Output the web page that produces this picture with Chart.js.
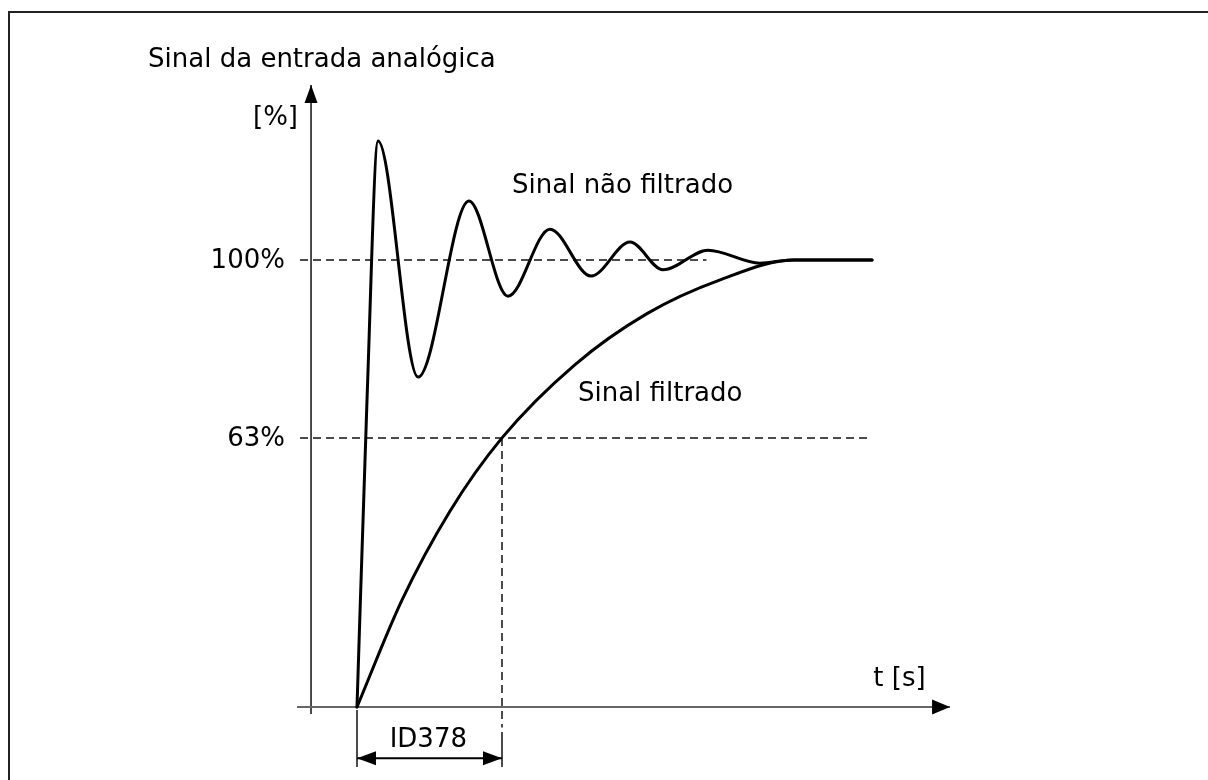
<!DOCTYPE html>
<html lang="pt">
<head>
<meta charset="utf-8">
<title>Sinal da entrada analógica</title>
<script src="https://cdn.jsdelivr.net/npm/chart.js@4.4.1/dist/chart.umd.min.js"></script>
<style>
  html, body { margin: 0; padding: 0; background: #fff; }
  #wrap { position: relative; width: 1208px; height: 780px; overflow: hidden; }
  #frame { position: absolute; left: 8px; top: 11px; width: 1400px; height: 1000px;
           border-left: 2px solid #222; border-top: 2px solid #222; }
  canvas { position: absolute; left: 0; top: 0; }
</style>
</head>
<body>
<div id="wrap">
  <div id="frame"></div>
  <canvas id="chart" width="1208" height="780"></canvas>
</div>
<script>
// Data: time in multiples of the filter time (ID378), signal in %
// unfiltered signal: start, steep rise, then the peaks and troughs of the ringing
const rawTime   = [0, 0.069, 0.145, 0.421, 0.772, 1.041, 1.331, 1.614, 1.883, 2.11, 2.421, 2.779, 3.0, 3.552];
const rawSignal = [0, 68.7, 126.6, 73.8, 113.2, 91.9, 106.9, 96.4, 104.0, 97.8, 102.2, 99.3, 100, 100];

// filtered signal (first-order response)
const filtTime   = [0, 0.31, 0.641, 1.0, 1.5, 2.0, 2.5, 3.02, 3.3, 3.552];
const filtSignal = [0, 23.9, 43.8, 60.2, 76.5, 88.0, 95.5, 100, 100, 100];

// dashed reference levels (height) and their labels
const refLevels = [100, 60.2];
const refLabels = ['100%', '63%'];
const refStart  = [-0.393, -0.393];
const refEnd    = [2.41, 3.552];

// axes and dimension line
const tauTime = 1;
const xAxisSpan = [-0.414, 4.09];
const yAxisTime = -0.317;
const yAxisSpan = [-1.57, 139.15];
const dimLevel = -11.48;
const dimExtent = [-0.67, -13.4];
const tauDashBottom = -4.6;
const tauExtTop = -5.6;

const pts = (xs, ys) => xs.map((x, i) => ({ x: x, y: ys[i] }));

const ink = '#000';
const font = '26px "DejaVu Sans", Verdana, sans-serif';

function lineSet(data, color, width, dash) {
  return {
    data: data,
    showLine: true,
    borderColor: color,
    borderWidth: width,
    borderDash: dash || [],
    pointRadius: 0,
    fill: false,
    tension: 0
  };
}

function curveSet(data) {
  const ds = lineSet(data, '#000', 3);
  ds.cubicInterpolationMode = 'monotone';
  ds.borderJoinStyle = 'round';
  ds.borderCapStyle = 'round';
  return ds;
}

const datasets = [
  curveSet(pts(rawTime, rawSignal)),
  curveSet(pts(filtTime, filtSignal)),
  lineSet([{ x: xAxisSpan[0], y: 0 }, { x: xAxisSpan[1], y: 0 }], '#666', 2),
  lineSet([{ x: yAxisTime, y: yAxisSpan[0] }, { x: yAxisTime, y: yAxisSpan[1] }], '#111', 1.5),
  lineSet([{ x: tauTime, y: refLevels[1] }, { x: tauTime, y: tauDashBottom }], '#111', 1.5, [8, 5]),
  lineSet([{ x: tauTime, y: tauExtTop }, { x: tauTime, y: dimExtent[1] }], '#111', 1.5),
  lineSet([{ x: 0, y: dimExtent[0] }, { x: 0, y: dimExtent[1] }], '#111', 1.5),
  lineSet([{ x: 0, y: dimLevel }, { x: tauTime, y: dimLevel }], '#000', 2)
];
refLevels.forEach((lv, i) => {
  datasets.push(lineSet([{ x: refStart[i], y: lv }, { x: refEnd[i], y: lv }], '#111', 1.5, [8, 5]));
});

// arrow heads: tip at a data point, drawn in pixel space
const arrows = [
  { x: yAxisTime, y: yAxisSpan[1], dir: 'up', len: 18, half: 6.5 },
  { x: xAxisSpan[1], y: 0, dir: 'right', len: 18, half: 7.5 },
  { x: 0, y: dimLevel, dir: 'left', len: 19, half: 7 },
  { x: tauTime, y: dimLevel, dir: 'right', len: 19, half: 7 }
];

const texts = [
  { text: 'Sinal da entrada analógica', x: -1.441, y: 143.18, align: 'left' },
  { text: '[%]', x: -0.407, y: 130.3, align: 'right' },
  { text: 'Sinal não filtrado', x: 1.069, y: 114.99, align: 'left' },
  { text: 'Sinal filtrado', x: 1.524, y: 68.46, align: 'left' },
  { text: 't [s]', x: 3.561, y: 4.7, align: 'left' },
  { text: 'ID378', x: 0.492, y: -8.88, align: 'center' }
];

const drawExtras = {
  id: 'drawExtras',
  afterDatasetsDraw(chart) {
    const ctx = chart.ctx;
    const xs = chart.scales.x;
    const ys = chart.scales.y;
    ctx.save();
    ctx.fillStyle = '#000';
    arrows.forEach(a => {
      const px = xs.getPixelForValue(a.x);
      const py = ys.getPixelForValue(a.y);
      ctx.beginPath();
      if (a.dir === 'up') {
        ctx.moveTo(px, py); ctx.lineTo(px - a.half, py + a.len); ctx.lineTo(px + a.half, py + a.len);
      } else if (a.dir === 'right') {
        ctx.moveTo(px, py); ctx.lineTo(px - a.len, py - a.half); ctx.lineTo(px - a.len, py + a.half);
      } else {
        ctx.moveTo(px, py); ctx.lineTo(px + a.len, py - a.half); ctx.lineTo(px + a.len, py + a.half);
      }
      ctx.closePath();
      ctx.fill();
    });

    ctx.fillStyle = ink;
    ctx.font = font;
    ctx.textBaseline = 'alphabetic';
    texts.forEach(t => {
      ctx.textAlign = t.align;
      ctx.fillText(t.text, xs.getPixelForValue(t.x), ys.getPixelForValue(t.y));
    });
    // level labels, right aligned beside the y axis
    ctx.textAlign = 'right';
    refLevels.forEach((lv, i) => {
      ctx.fillText(refLabels[i], xs.getPixelForValue(-0.497), ys.getPixelForValue(lv) + 8);
    });
    ctx.restore();
  }
};

new Chart(document.getElementById('chart'), {
  type: 'scatter',
  data: { datasets: datasets },
  options: {
    responsive: false,
    animation: false,
    layout: { padding: 0 },
    plugins: { legend: { display: false }, tooltip: { enabled: false } },
    scales: {
      x: { type: 'linear', display: false, min: -357 / 145, max: 851 / 145 },
      y: { type: 'linear', display: false, min: -73 / 4.47, max: 707 / 4.47 }
    }
  },
  plugins: [drawExtras]
});
</script>
</body>
</html>
